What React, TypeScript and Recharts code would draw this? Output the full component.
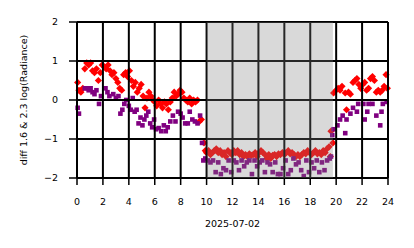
import React from 'react'
import {
  ScatterChart,
  Scatter,
  XAxis,
  YAxis,
  CartesianGrid,
  ReferenceArea,
} from 'recharts'

// hours of day (UTC) and the 1.6/2.3 log-radiance difference
const redHours = [
  0.05, 0.15, 0.3, 0.45, 0.6, 0.75, 0.9, 1.05, 1.2, 1.35, 1.5, 1.65, 1.8, 1.95, 2.1, 2.25, 2.4, 2.55, 2.7, 2.85,
  3.0, 3.15, 3.3, 3.45, 3.6, 3.75, 3.9, 4.05, 4.2, 4.35, 4.5, 4.65, 4.8, 4.95, 5.1, 5.25, 5.4, 5.55, 5.7, 5.85,
  6.0, 6.15, 6.3, 6.45, 6.6, 6.75, 6.9, 7.05, 7.2, 7.35, 7.5, 7.65, 7.8, 7.95, 8.1, 8.25, 8.4, 8.55, 8.7, 8.85,
  9.0, 9.15, 9.3, 9.45, 9.6, 9.8, 9.9,
  10.0, 10.15, 10.3, 10.45, 10.6, 10.75, 10.9, 11.05, 11.2, 11.35, 11.5, 11.65, 11.8, 11.95, 12.1, 12.25, 12.4,
  12.55, 12.7, 12.85, 13.0, 13.15, 13.3, 13.45, 13.6, 13.75, 13.9, 14.05, 14.2, 14.35, 14.5, 14.65, 14.8, 14.95,
  15.1, 15.25, 15.4, 15.55, 15.7, 15.85, 16.0, 16.15, 16.3, 16.45, 16.6, 16.75, 16.9, 17.05, 17.2, 17.35, 17.5,
  17.65, 17.8, 17.95, 18.1, 18.25, 18.4, 18.55, 18.7, 18.85, 19.0, 19.15, 19.3, 19.45, 19.55, 19.6, 19.75,
  19.8, 20.0, 20.15, 20.3, 20.45, 20.7, 20.8, 20.95, 21.1, 21.3, 21.45, 21.6, 21.75, 21.9, 22.05, 22.2, 22.35,
  22.5, 22.65, 22.8, 22.95, 23.1, 23.25, 23.4, 23.55, 23.7, 23.85, 23.95,
]
const redValues = [
  0.45, 0.25, 0.2, 0.3, 0.8, 0.95, 0.9, 0.95, 0.75, 0.7, 0.8, 0.5, 0.7, 0.9, 0.85, 0.8, 0.9, 0.75, 0.65, 0.7,
  0.55, 0.45, 0.3, 0.25, 0.65, 0.7, 0.6, 0.75, 0.5, 0.35, 0.45, 0.2, 0.3, 0.4, 0.1, -0.2, 0.05, 0.2, 0.1, 0.0,
  -0.05, -0.15, 0.0, -0.1, -0.2, -0.05, -0.1, -0.25, -0.05, 0.05, 0.2, 0.1, 0.15, 0.25, 0.2, 0.05, 0.0, -0.05, 0.05, -0.1,
  0.0, -0.05, 0.0, -0.55, -0.5, -1.1, -1.3,
  -1.35, -1.3, -1.4, -1.35, -1.3, -1.25, -1.35, -1.3, -1.4, -1.35, -1.45, -1.3, -1.35, -1.4, -1.3, -1.35, -1.3,
  -1.4, -1.35, -1.45, -1.4, -1.45, -1.38, -1.42, -1.4, -1.35, -1.45, -1.35, -1.3, -1.35, -1.4, -1.5, -1.4, -1.5,
  -1.42, -1.4, -1.45, -1.38, -1.4, -1.35, -1.4, -1.35, -1.3, -1.38, -1.35, -1.4, -1.45, -1.4, -1.45, -1.4, -1.35,
  -1.38, -1.3, -1.35, -1.4, -1.35, -1.3, -1.38, -1.35, -1.4, -1.3, -1.35, -1.25, -1.2, -1.45, -0.8, -1.1,
  0.18, 0.25, 0.3, 0.25, 0.35, 0.18, -0.25, 0.2, 0.15, 0.45, 0.5, 0.55, 0.4, 0.3, 0.4, 0.45, 0.25,
  0.3, 0.55, 0.6, 0.5, 0.2, 0.25, 0.2, 0.25, 0.35, 0.65, 0.3,
]

const purpleHours = [
  0.05, 0.15, 0.6, 0.75, 0.9, 1.05, 1.2, 1.35, 1.5, 1.7, 1.85, 2.2, 2.35, 2.5, 2.8, 3.0, 3.2, 3.35, 3.5, 3.65,
  3.8, 4.0, 4.15, 4.3, 4.45, 4.6, 4.75, 4.9, 5.05, 5.2, 5.35, 5.5, 5.65, 5.8, 5.95, 6.1, 6.3, 6.5, 6.7, 6.85,
  7.0, 7.2, 7.4, 7.6, 7.8, 8.0, 8.15, 8.35, 8.55, 8.7, 8.9, 9.1, 9.3, 9.5, 9.65, 9.75, 9.9,
  10.1, 10.3, 10.5, 10.7, 10.9, 11.1, 11.3, 11.5, 11.7, 11.9, 12.1, 12.3, 12.5, 12.7, 12.9, 13.1, 13.3, 13.5,
  13.7, 13.9, 14.1, 14.3, 14.5, 14.7, 14.9, 15.1, 15.3, 15.5, 15.7, 15.9, 16.1, 16.3, 16.5, 16.7, 16.9, 17.1,
  17.3, 17.5, 17.7, 17.9, 18.1, 18.3, 18.5, 18.7, 18.9, 19.1, 19.3, 19.5, 19.6, 19.7, 19.8,
  20.1, 20.3, 20.5, 20.7, 20.8, 21.1, 21.3, 21.6, 21.7, 22.1, 22.2, 22.4, 22.5, 22.8, 23.1, 23.4, 23.5, 23.6, 23.9,
]
const purpleValues = [
  -0.2, -0.35, 0.3, 0.3, 0.25, 0.3, 0.2, 0.15, 0.25, -0.1, 0.1, 0.3, 0.2, 0.1, 0.15, 0.05, 0.1, -0.35, -0.25, -0.1,
  0.0, -0.15, -0.25, 0.05, -0.3, -0.25, -0.6, -0.45, -0.65, -0.5, -0.4, -0.3, -0.6, -0.7, -0.5, -0.75, -0.72, -0.8, -0.65, -0.8,
  -0.7, -0.55, -0.4, -0.55, -0.3, -0.35, -0.45, -0.6, -0.6, -0.3, -0.5, -0.55, -0.6, -0.4, -1.1, -1.55, -1.5,
  -1.55, -1.6, -1.55, -1.85, -1.6, -1.9, -1.75, -1.8, -1.55, -1.85, -1.55, -1.6, -1.8, -1.55, -1.7, -1.6, -1.55, -1.9,
  -1.55, -1.7, -1.6, -1.55, -1.85, -1.6, -1.65, -1.85, -1.6, -1.9, -1.9, -1.75, -1.55, -1.9, -1.8, -1.5, -1.65, -1.6,
  -1.8, -1.95, -1.55, -1.85, -1.6, -1.75, -1.55, -1.85, -1.6, -1.8, -1.55, -1.5, -1.45, -0.9, -0.75,
  -0.65, -0.5, -0.4, -0.85, -0.5, -0.35, -0.2, -0.3, -0.1, -0.1, -0.5, -0.3, -0.1, -0.1, -0.4, -0.65, -0.3, -0.1, -0.05,
]

const hourTicks = [0, 2, 4, 6, 8, 10, 12, 14, 16, 18, 20, 22, 24]
const valueTicks = [-2, -1, 0, 1, 2]
const shadedSpan = [10, 19.75]

const redData = redHours.map((h, i) => ({ h, v: redValues[i] }))
const purpleData = purpleHours.map((h, i) => ({ h, v: purpleValues[i] }))

const W = 414
const H = 248
const font = 'DejaVu Sans, sans-serif'
const tickStyle = { fontSize: 9.5, fill: '#000', fontFamily: font }

const Diamond = (p: any) => {
  const r = 3.6
  return (
    <polygon
      points={`${p.cx},${p.cy - r} ${p.cx + r},${p.cy} ${p.cx},${p.cy + r} ${p.cx - r},${p.cy}`}
      fill="#ff0000"
    />
  )
}

const Square = (p: any) => (
  <rect x={p.cx - 2.3} y={p.cy - 2.3} width={4.6} height={4.6} fill="#800080" />
)

const NoMark = () => <g />

const fmt = (v: number) => (v < 0 ? `\u2212${Math.abs(v)}` : `${v}`)

// second chart laid on top: shaded span + black grid over the markers
function Overlay() {
  return (
    <ScatterChart width={W} height={H} margin={{ top: 22, right: 26, bottom: 70, left: 77 }}>
      <XAxis dataKey="h" type="number" domain={[0, 24]} ticks={hourTicks} allowDataOverflow hide />
      <YAxis dataKey="v" type="number" domain={[-2, 2]} ticks={valueTicks} allowDataOverflow hide />
      <CartesianGrid stroke="#000" strokeWidth={2} />
      <ReferenceArea
        x1={shadedSpan[0]}
        x2={shadedSpan[1]}
        y1={-2}
        y2={2}
        fill="#808080"
        fillOpacity={0.3}
        stroke="none"
      />
      <Scatter data={redData} shape={NoMark} isAnimationActive={false} />
    </ScatterChart>
  )
}

export default function App() {
  return (
    <div style={{ position: 'absolute', left: 0, top: 0, width: W, height: H, background: '#fff' }}>
      <ScatterChart width={W} height={H} margin={{ top: 22, right: 26, bottom: 0, left: 0 }}>
        <XAxis
          dataKey="h"
          type="number"
          domain={[0, 24]}
          ticks={hourTicks}
          interval={0}
          height={70}
          tick={tickStyle}
          tickSize={7}
          tickMargin={13}
          stroke="#000"
          tickLine={{ stroke: '#000', strokeWidth: 1.5 }}
          label={{ value: '2025-07-02', position: 'insideBottom', offset: 21, style: { ...tickStyle } }}
        />
        <YAxis
          dataKey="v"
          type="number"
          domain={[-2, 2]}
          ticks={valueTicks}
          interval={0}
          width={77}
          tick={tickStyle}
          tickSize={8}
          tickMargin={11}
          tickFormatter={fmt}
          stroke="#000"
          tickLine={{ stroke: '#000', strokeWidth: 1.5 }}
          label={{
            value: 'diff 1.6 & 2.3  log(Radiance)',
            angle: -90,
            position: 'insideLeft',
            offset: 24,
            style: { ...tickStyle, textAnchor: 'middle' },
          }}
        />
        <Scatter data={redData} shape={Diamond} isAnimationActive={false} />
        <Scatter data={purpleData} shape={Square} isAnimationActive={false} />
      </ScatterChart>
      <div style={{ position: 'absolute', left: 0, top: 0, pointerEvents: 'none' }}>
        <Overlay />
      </div>
    </div>
  )
}
